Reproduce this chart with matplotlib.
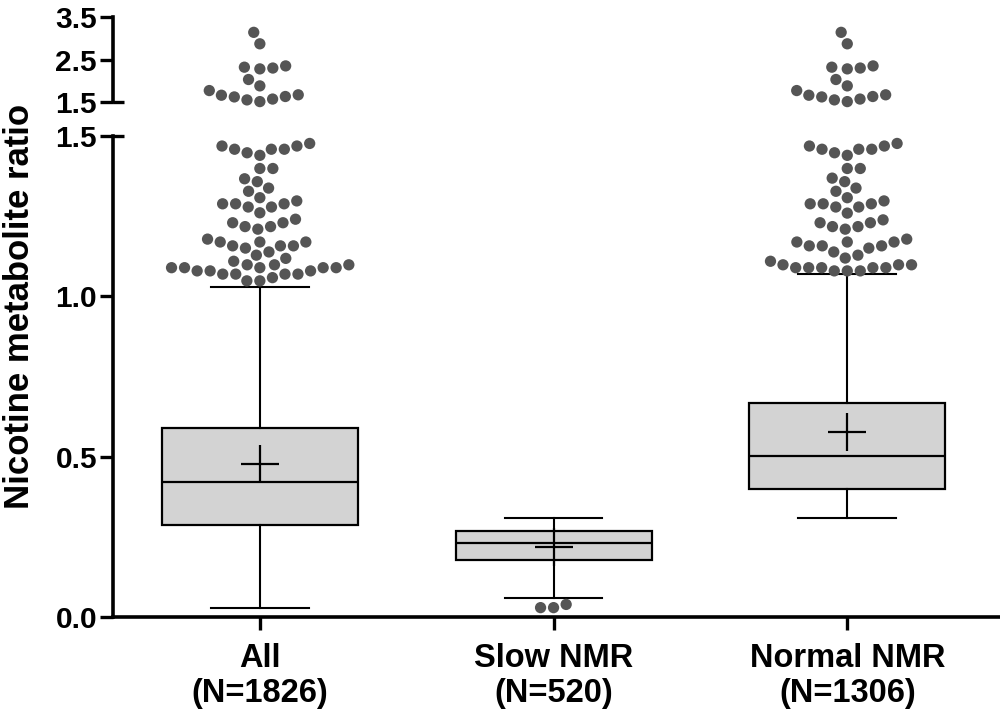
import numpy as np
import matplotlib
matplotlib.use("Agg")
import matplotlib.pyplot as plt

# --- data ------------------------------------------------------------------
groups = ["All", "Slow NMR", "Normal NMR"]
group_n = [1826, 520, 1306]
q1 = [0.288, 0.178, 0.400]
median = [0.421, 0.231, 0.503]
q3 = [0.589, 0.269, 0.669]
mean = [0.477, 0.219, 0.577]
whisker_lo = [0.028, 0.059, 0.310]
whisker_hi = [1.030, 0.310, 1.069]

# outliers (values) for each group
all_outliers = [
    3.14, 2.87, 2.30, 2.28, 2.32, 2.35, 2.03, 1.88,
    1.67, 1.63, 1.57, 1.51, 1.55, 1.62, 1.66, 1.77,
    1.476, 1.468, 1.458, 1.447, 1.439, 1.458, 1.458, 1.468,
    1.398, 1.398, 1.357, 1.366, 1.327, 1.337, 1.307,
    1.297, 1.288, 1.278, 1.278, 1.288, 1.288, 1.260,
    1.240, 1.229, 1.217, 1.209, 1.217, 1.229,
    1.169, 1.169, 1.157, 1.150, 1.157, 1.157, 1.169, 1.178,
    1.128, 1.109, 1.098, 1.098, 1.098, 1.118, 1.138,
    1.089, 1.089, 1.089, 1.079, 1.069, 1.069, 1.058, 1.048,
    1.048, 1.069, 1.069, 1.079, 1.079, 1.089, 1.089,
]
slow_outliers = [0.040, 0.030, 0.030]
normal_outliers = [
    3.14, 2.87, 2.30, 2.28, 2.32, 2.35, 2.03, 1.88,
    1.67, 1.63, 1.57, 1.51, 1.55, 1.62, 1.66, 1.77,
    1.468, 1.458, 1.458, 1.439, 1.447, 1.458, 1.468, 1.476,
    1.398, 1.398, 1.368, 1.357, 1.337, 1.327, 1.307,
    1.288, 1.288, 1.278, 1.278, 1.288, 1.297, 1.259,
    1.229, 1.229, 1.238, 1.217, 1.209, 1.217, 1.178,
    1.169, 1.157, 1.157, 1.138, 1.150, 1.157, 1.169, 1.169, 1.128,
    1.119, 1.098, 1.098, 1.089, 1.089, 1.079, 1.079, 1.079,
    1.089, 1.089, 1.089, 1.098, 1.109,
]
outliers = [all_outliers, slow_outliers, normal_outliers]

BREAK = 1.5
lo_ticks = [0.0, 0.5, 1.0, 1.5]
hi_ticks = [1.5, 2.5, 3.5]

plt.rcParams["font.family"] = ["Liberation Sans", "DejaVu Sans"]
plt.rcParams["font.weight"] = "bold"

DOT_COLOR = "#555555"
BOX_COLOR = "#d3d3d3"
DOT_D = 13.0  # px spacing between swarm dots


def swarm_offsets(vals, px_per_y):
    """simple beeswarm: returns x offsets in pixels"""
    ys = np.asarray(vals) * px_per_y
    order = np.argsort(ys, kind="stable")
    placed = []
    out = np.zeros(len(ys))
    for i in order:
        y = ys[i]
        cands = [0.0]
        for (px, py) in placed:
            dy = y - py
            if abs(dy) < DOT_D:
                dx = np.sqrt(DOT_D ** 2 - dy ** 2)
                cands += [px + dx, px - dx]
        cands.sort(key=lambda c: (abs(c), c))
        for c in cands:
            if all((c - px) ** 2 + (y - py) ** 2 >= DOT_D ** 2 - 1e-6 for px, py in placed):
                out[i] = c
                placed.append((c, y))
                break
    return out


fig = plt.figure(figsize=(10, 7.16), dpi=100)
ax_lo = fig.add_axes([0.113, 0.1379, 0.887, 0.6725])
ax_hi = fig.add_axes([0.113, 0.8575, 0.887, 0.1187])

xlim = (-0.5, 2.52)
for ax in (ax_lo, ax_hi):
    ax.set_xlim(*xlim)
    ax.spines["top"].set_visible(False)
    ax.spines["right"].set_visible(False)
    ax.spines["left"].set_linewidth(2.6)
    ax.tick_params(axis="y", length=9.5, width=2.4, labelsize=21.5, pad=2)
    ax.patch.set_alpha(0)

ax_lo.set_ylim(0, BREAK)
ax_hi.set_ylim(BREAK, 3.5)
ax_hi.spines["bottom"].set_visible(False)
ax_hi.set_xticks([])
ax_lo.spines["bottom"].set_linewidth(2.6)

# box plots from summary stats
stats = []
for i in range(len(groups)):
    stats.append(dict(med=median[i], q1=q1[i], q3=q3[i], whislo=whisker_lo[i],
                      whishi=whisker_hi[i], mean=mean[i], fliers=[]))
ax_lo.bxp(stats, positions=range(len(groups)), widths=0.667, capwidths=0.333,
          patch_artist=True, showmeans=True, showfliers=False,
          boxprops=dict(facecolor=BOX_COLOR, edgecolor="black", linewidth=1.6),
          whiskerprops=dict(color="black", linewidth=1.5),
          capprops=dict(color="black", linewidth=1.5),
          medianprops=dict(color="black", linewidth=1.6),
          meanprops=dict(marker="+", markersize=28, markeredgewidth=1.6,
                         markeredgecolor="black"))

# swarm outliers on both segments
fig.canvas.draw()
for ax, lo, hi in ((ax_lo, 0, BREAK), (ax_hi, BREAK, 3.5)):
    bb = ax.get_window_extent()
    px_per_y = bb.height / (hi - lo)
    px_per_x = bb.width / (xlim[1] - xlim[0])
    for i, vals in enumerate(outliers):
        if lo == 0:
            v = np.array([u for u in vals if u < BREAK])
        else:
            v = np.array([u for u in vals if u >= BREAK])
        if len(v) == 0:
            continue
        off = swarm_offsets(v, px_per_y) / px_per_x
        ax.scatter(i + off, v, s=66, color=DOT_COLOR, edgecolors="none",
                   zorder=3, clip_on=False)

ax_lo.set_yticks(lo_ticks)
ax_lo.set_yticklabels(["0.0", "0.5", "1.0", "1.5"])
ax_hi.set_yticks(hi_ticks)
ax_hi.set_yticklabels(["1.5", "2.5", "3.5"])

ax_lo.set_xticks(range(len(groups)))
ax_lo.set_xticklabels([f"{g}\n(N={n})" for g, n in zip(groups, group_n)],
                      fontsize=23.5, linespacing=1.17)
ax_lo.tick_params(axis="x", length=9.5, width=2.4, pad=9)

# break marks: the 1.5 ticks run across the spine
for ax, yy in ((ax_lo, 1.0), (ax_hi, 0.0)):
    ax.plot([0, 0.0125], [yy, yy], transform=ax.transAxes, color="black",
            linewidth=2.4, clip_on=False, solid_capstyle="butt")

fig.text(0.02, 0.572, "Nicotine metabolite ratio", rotation=90,
         ha="center", va="center", fontsize=25)

fig.savefig("out.png", dpi=100)
